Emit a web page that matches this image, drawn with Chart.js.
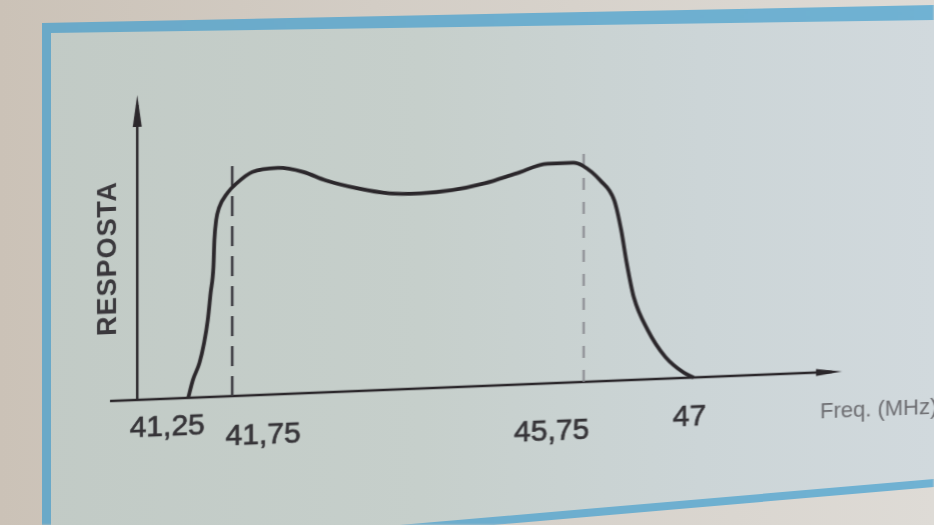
<!DOCTYPE html>
<html>
<head>
<meta charset="utf-8">
<title>Resposta em frequência</title>
<script src="https://cdn.jsdelivr.net/npm/chart.js@4/dist/chart.umd.min.js"></script>
<style>
  html, body { margin: 0; padding: 0; }
  body {
    width: 934px; height: 525px; overflow: hidden; position: relative;
    background: linear-gradient(90deg, #cbc2b7 0%, #d3cdc5 40%, #dedbd6 100%);
  }
  .frame, .sheet { position: absolute; left: 0; top: 0; width: 934px; height: 525px; }
  .frame {
    background: linear-gradient(90deg, #6aa9c8, #70b2d3);
    clip-path: polygon(42px 23px, 934px 5px, 934px 487px, 42px 564px);
    filter: blur(0.8px);
  }
  .sheet {
    background: linear-gradient(90deg, #c1cac5 0%, #c6cfcb 45%, #ccd5d7 75%, #d1d9dd 100%);
    clip-path: polygon(51px 33px, 934px 20px, 934px 479px, 51px 555px);
  }
  #chart {
    position: absolute; left: 0; top: 0;
    transform: skewY(-2.31deg);
    transform-origin: 185px 398px;
    filter: blur(0.6px);
  }
</style>
</head>
<body>
<div class="frame"></div>
<div class="sheet"></div>
<canvas id="chart" width="934" height="525"></canvas>
<script>
// IF response curve, frequency in MHz against relative response
const freqMHz = [
  41.25, 41.303, 41.378, 41.431, 41.473, 41.505, 41.537, 41.548, 41.569, 41.601,
  41.697, 41.804, 41.978, 42.271, 42.564, 42.812, 43.17, 43.539, 43.896, 44.254,
  44.623, 44.98, 45.338, 45.631, 45.739, 45.94, 46.098, 46.177, 46.24, 46.32,
  46.478, 46.68, 46.89, 47
];
const resposta = [
  0, 5.8, 11.3, 17.8, 25.3, 34.1, 42.6, 51.4, 58.0, 61.9,
  66.7, 69.8, 73.2, 74.2, 72.5, 69.5, 66.5, 64.4, 64.0, 64.6,
  66.4, 69.2, 72.0, 72.0, 70.9, 65.8, 59.1, 49.2, 38.3, 27.1,
  16.2, 7.1, 1.7, 0
];

// dashed guides at the two band edges
const markerFreqs = [41.75, 45.75];
const markerTops = [76.7, 77.5];

const tickFreqs = [41.25, 41.75, 45.75, 47];
const tickText = ['41,25', '41,75', '45,75', '47'];

const yAxisAt = 40.67;
const axisTitleY = 'RESPOSTA';
const axisTitleX = 'Freq. (MHz)';

const ink = '#2b272b';

function arrowHead(ctx, x, y, dir, len, half) {
  ctx.beginPath();
  if (dir === 'up') {
    ctx.moveTo(x, y);
    ctx.lineTo(x - half, y + len);
    ctx.lineTo(x + half, y + len);
  } else {
    ctx.moveTo(x, y);
    ctx.lineTo(x - len, y - half);
    ctx.lineTo(x - len, y + half);
  }
  ctx.closePath();
  ctx.fill();
}

const sketchAxes = {
  id: 'sketchAxes',
  beforeDatasetsDraw(chart) {
    const { ctx, chartArea, scales: { x, y } } = chart;
    const y0 = y.getPixelForValue(0);
    const xa = x.getPixelForValue(yAxisAt);
    ctx.save();
    ctx.strokeStyle = ink;
    ctx.fillStyle = ink;
    ctx.lineWidth = 2.5;
    ctx.beginPath();
    ctx.moveTo(chartArea.left, y0);
    ctx.lineTo(chartArea.right - 10, y0);
    ctx.moveTo(xa, y0);
    ctx.lineTo(xa, chartArea.top + 10);
    ctx.stroke();
    arrowHead(ctx, xa, chartArea.top, 'up', 32, 4.5);
    arrowHead(ctx, chartArea.right, y0, 'right', 26, 3.5);
    ctx.restore();
  },
  afterDraw(chart) {
    const { ctx, chartArea, scales: { x, y } } = chart;
    const y0 = y.getPixelForValue(0);
    // labels sit beside their points, as set in the drawing
    const nudge = [[-21, 29], [31, 41], [-32, 49], [-4, 40]];
    ctx.save();
    ctx.fillStyle = '#363438';
    ctx.strokeStyle = '#363438';
    ctx.lineWidth = 0.7;
    ctx.textAlign = 'center';
    ctx.textBaseline = 'middle';
    ctx.font = '30px "Liberation Sans", Arial, sans-serif';
    tickFreqs.forEach((f, i) => {
      const px = x.getPixelForValue(f) + nudge[i][0];
      ctx.fillText(tickText[i], px, y0 + nudge[i][1]);
      ctx.strokeText(tickText[i], px, y0 + nudge[i][1]);
    });

    ctx.fillStyle = '#6c6c70';
    ctx.textAlign = 'left';
    ctx.font = '22px "Liberation Sans", Arial, sans-serif';
    ctx.fillText(axisTitleX, chartArea.right - 22, y0 + 40);

    ctx.fillStyle = '#3a383c';
    ctx.textAlign = 'center';
    ctx.font = 'bold 27px "Liberation Sans", Arial, sans-serif';
    ctx.letterSpacing = '1px';
    ctx.translate(x.getPixelForValue(yAxisAt) - 29, (chartArea.top + chartArea.bottom) / 2 + 10);
    ctx.rotate(-Math.PI / 2);
    ctx.fillText(axisTitleY, 0, 0);
    ctx.restore();
  }
};

const markerSets = markerFreqs.map((f, i) => ({
  data: [{ x: f, y: 0 }, { x: f, y: markerTops[i] }],
  borderColor: i === 0 ? '#3a393e' : '#85868c',
  borderWidth: i === 0 ? 2.5 : 2,
  borderDash: i === 0 ? [20, 10] : [12, 12],
  pointRadius: 0,
  tension: 0,
  clip: false
}));

new Chart(document.getElementById('chart'), {
  type: 'line',
  data: {
    datasets: [
      {
        data: freqMHz.map((f, i) => ({ x: f, y: resposta[i] })),
        borderColor: ink,
        borderWidth: 3.8,
        pointRadius: 0,
        cubicInterpolationMode: 'monotone',
        clip: false
      },
      ...markerSets
    ]
  },
  options: {
    responsive: false,
    animation: false,
    layout: { padding: { left: 110, right: 92, top: 93, bottom: 127 } },
    plugins: { legend: { display: false }, tooltip: { enabled: false } },
    scales: {
      x: { type: 'linear', min: 40.36, max: 48.69, display: false },
      y: { min: 0, max: 100, display: false }
    }
  },
  plugins: [sketchAxes]
});
</script>
</body>
</html>
